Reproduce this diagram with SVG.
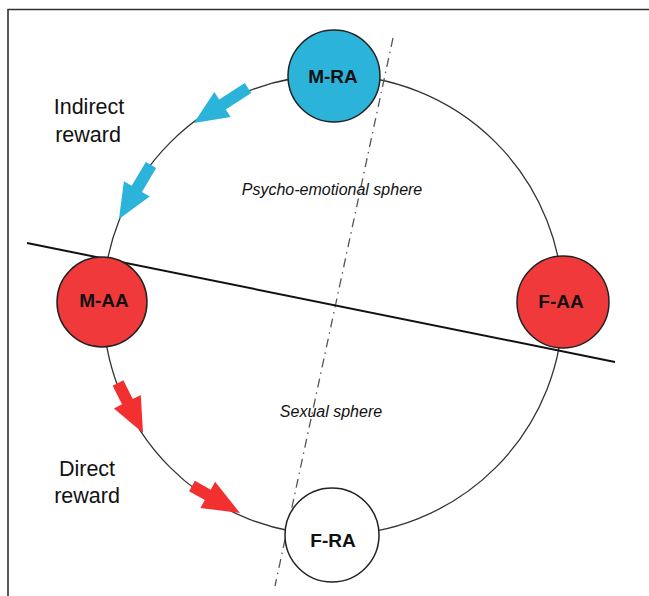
<svg xmlns="http://www.w3.org/2000/svg" width="649" height="596" viewBox="0 0 649 596">
<style>
.frame{fill:none;stroke:#333;stroke-width:1.6}
.ring{fill:none;stroke:#333;stroke-width:1.3}
.divider{fill:none;stroke:#111;stroke-width:2}
.axis{fill:none;stroke:#555;stroke-width:1.3;stroke-dasharray:9 5 1.5 5}
.node{stroke:#222;stroke-width:1.5}
.blue{fill:#2BB3DA}
.red{fill:#F0393A}
.white{fill:#fff}
.nlabel{font-family:"Liberation Sans",Arial,sans-serif;font-weight:bold;font-size:19px;fill:#111;text-anchor:middle}
.side{font-family:"Liberation Sans",Arial,sans-serif;font-size:21.5px;fill:#111;text-anchor:middle}
.sphere{font-family:"Liberation Sans",Arial,sans-serif;font-style:italic;font-size:16px;fill:#111;text-anchor:middle}
.arrB{fill:#2BB3DA}
.arrR{fill:#F2302F}
</style>
<rect x="0" y="0" width="649" height="596" fill="#fff"/>
<path class="frame" d="M649 9.5 H8 V596"/>
<g id="connectors">
<circle class="ring" cx="333" cy="305" r="230"/>
<line class="axis" x1="393" y1="38" x2="275" y2="586"/>
<line class="divider" x1="27" y1="243" x2="615" y2="362"/>
<path class="arrB" transform="translate(248 88) rotate(147.1)" d="M0 -6 H30.4 V-15 L64.4 0 L30.4 15 V6 H0 Z"/>
<path class="arrB" transform="translate(151 165) rotate(120.65)" d="M0 -6 H27.8 V-15 L62.8 0 L27.8 15 V6 H0 Z"/>
<path class="arrR" transform="translate(118 383) rotate(63.4)" d="M0 -6 H20.9 V-15 L55.9 0 L20.9 15 V6 H0 Z"/>
<path class="arrR" transform="translate(192 486) rotate(29.4)" d="M0 -6 H18.1 V-15 L55.1 0 L18.1 15 V6 H0 Z"/>
</g>
<g id="M-RA">
<circle class="node blue" cx="334" cy="76" r="46"/>
<text class="nlabel" x="333" y="83">M-RA</text>
</g>
<g id="M-AA">
<circle class="node red" cx="102" cy="302" r="45"/>
<text class="nlabel" x="104" y="307">M-AA</text>
</g>
<g id="F-AA">
<circle class="node red" cx="563" cy="302" r="46"/>
<text class="nlabel" x="561" y="308">F-AA</text>
</g>
<g id="F-RA">
<circle class="node white" cx="332" cy="535" r="47"/>
<text class="nlabel" x="333" y="547">F-RA</text>
</g>
<g id="labels">
<text class="side" x="89" y="114">Indirect</text>
<text class="side" x="88" y="142">reward</text>
<text class="side" x="87" y="476">Direct</text>
<text class="side" x="87" y="503">reward</text>
<text class="sphere" x="332" y="195">Psycho-emotional sphere</text>
<text class="sphere" x="331" y="417">Sexual sphere</text>
</g>
</svg>
